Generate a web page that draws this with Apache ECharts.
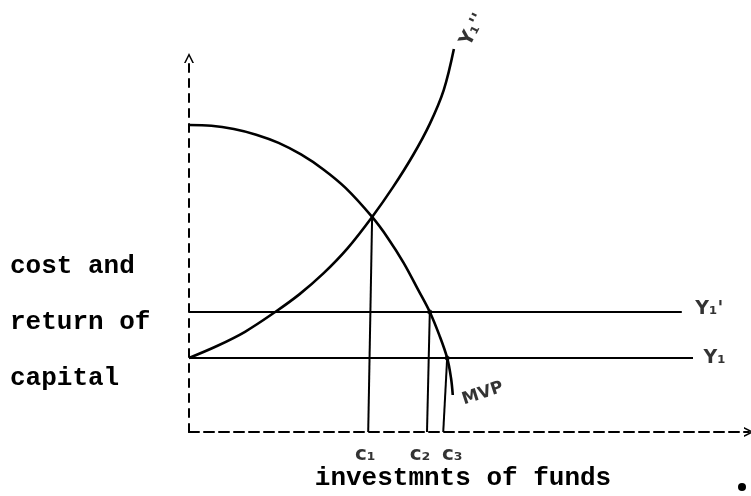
<!DOCTYPE html>
<html>
<head>
<meta charset="utf-8">
<script src="https://cdn.jsdelivr.net/npm/echarts@6/dist/echarts.min.js"></script>
<style>
  html, body { margin: 0; padding: 0; background: #fff; }
  #chart { width: 751px; height: 496px; }
</style>
</head>
<body>
<div id="chart"></div>
<script>
// x: investment of funds, y: cost / return of capital (arbitrary units 0-100)
const mvpX = [0, 4, 8, 12, 16, 20, 24, 28, 32.7, 35.5, 38.3, 41.0, 43.0, 44.7, 46.1, 46.8, 47.1];
const mvpY = [82.1, 81.9, 81.0, 79.5, 77.3, 74.2, 70.2, 65.2, 57.5, 51.9, 45.3, 37.8, 32.1, 25.9, 19.8, 14.3, 9.9];

const y1ppX = [0, 5, 10, 15.4, 19.7, 24.0, 28.3, 32.7, 36.4, 40.0, 43.0, 45.5, 47.3];
const y1ppY = [19.8, 23.0, 26.8, 32.1, 36.8, 42.4, 49.1, 57.5, 65.4, 74.0, 82.4, 91.5, 102.4];

const y1Level = 19.8, y1End = 90;     // Y1
const y1pLevel = 32.1, y1pEnd = 88;   // Y1'

const cNames = ["c₁", "c₂", "c₃"];
const cBottomX = [32.0, 42.5, 45.4];
const cTopX = [32.7, 43.0, 46.1];
const cTopY = [57.5, 32.1, 19.8];

const yTitle = ["cost and", "return of", "capital"];
const xTitle = "investmnts of funds";

const ink = "#000";
const chevron = "path://M0,12 L6,0 L12,12 L10,12 L6,4 L2,12 Z";
const zip = (xs, ys) => xs.map((x, i) => [x, ys[i]]);

const chart = echarts.init(document.getElementById("chart"));

const axisBase = {
  type: "value",
  min: 0,
  max: 100,
  axisTick: { show: false },
  axisLabel: { show: false },
  splitLine: { show: false },
};

const plain = (name, data, width) => ({
  name,
  type: "line",
  data,
  showSymbol: false,
  clip: false,
  silent: true,
  lineStyle: { color: ink, width },
});

const curve = (name, data) => Object.assign(plain(name, data, 2.6), { smooth: 0.35 });

const lastMvp = [mvpX[mvpX.length - 1], mvpY[mvpY.length - 1]];
const lastY1pp = [y1ppX[y1ppX.length - 1], y1ppY[y1ppY.length - 1]];
const cOffsets = [-3, -7, 9];

// offsets of rotated labels are given in the label's own (rotated) frame
const labelData = [
  { value: [y1End, y1Level], label: { formatter: "Y₁", position: "right", distance: 10, fontSize: 19, fontWeight: "bold" } },
  { value: [y1pEnd, y1pLevel], label: { formatter: "Y₁'", position: "right", distance: 13, fontSize: 19, fontWeight: "bold", offset: [0, -3] } },
  { value: lastY1pp, label: { formatter: "Y₁''", position: "inside", offset: [26, 8], rotate: 62, fontSize: 19, fontWeight: "bold" } },
  { value: lastMvp, label: { formatter: "MVP", position: "inside", offset: [29, 8], rotate: 18, fontSize: 17, fontWeight: "bold" } },
].concat(cNames.map((n, i) => ({
  value: [cBottomX[i], 0],
  label: { formatter: n, position: "bottom", distance: 12, offset: [cOffsets[i], 0], fontSize: 20, fontWeight: "bold" },
})));

chart.setOption({
  backgroundColor: "#fff",
  animation: false,
  grid: { left: 189, right: 2, top: 58, bottom: 64, outerBoundsMode: "none" },
  xAxis: {
    ...axisBase,
    axisLine: {
      show: true,
      symbol: ["none", chevron],
      symbolSize: [10, 12],
      lineStyle: { color: ink, width: 2, type: [10, 5] },
    },
    name: xTitle,
    nameLocation: "middle",
    nameGap: 33,
    nameTextStyle: { fontFamily: "Liberation Mono", fontWeight: "bold", fontSize: 26, color: ink, padding: [0, 12, 0, 0] },
  },
  yAxis: {
    ...axisBase,
    axisLine: {
      show: true,
      symbol: ["none", chevron],
      symbolSize: [10, 12],
      lineStyle: { color: ink, width: 2, type: [8, 7] },
    },
  },
  graphic: [
    {
      type: "text",
      left: 10,
      top: 238,
      style: {
        text: yTitle.join("\n"),
        font: "bold 26px 'Liberation Mono'",
        lineHeight: 56,
        fill: ink,
      },
    },
    { type: "circle", shape: { cx: 742, cy: 487, r: 4 }, style: { fill: ink } },
  ],
  series: [
    curve("MVP", zip(mvpX, mvpY)),
    curve("Y1''", zip(y1ppX, y1ppY)),
    plain("Y1", [[0, y1Level], [y1End, y1Level]], 2),
    plain("Y1'", [[0, y1pLevel], [y1pEnd, y1pLevel]], 2),
    ...cNames.map((n, i) => plain(n, [[cBottomX[i], 0], [cTopX[i], cTopY[i]]], 2)),
    {
      name: "dots",
      type: "scatter",
      silent: true,
      symbolSize: 5,
      itemStyle: { color: ink },
      data: [[cTopX[1], cTopY[1]], [cTopX[2], cTopY[2]]],
    },
    {
      name: "labels",
      type: "scatter",
      silent: true,
      clip: false,
      symbolSize: 1,
      itemStyle: { color: "rgba(0,0,0,0)" },
      label: { show: true, fontFamily: "DejaVu Sans", color: ink },
      data: labelData,
    },
  ],
});
</script>
</body>
</html>
